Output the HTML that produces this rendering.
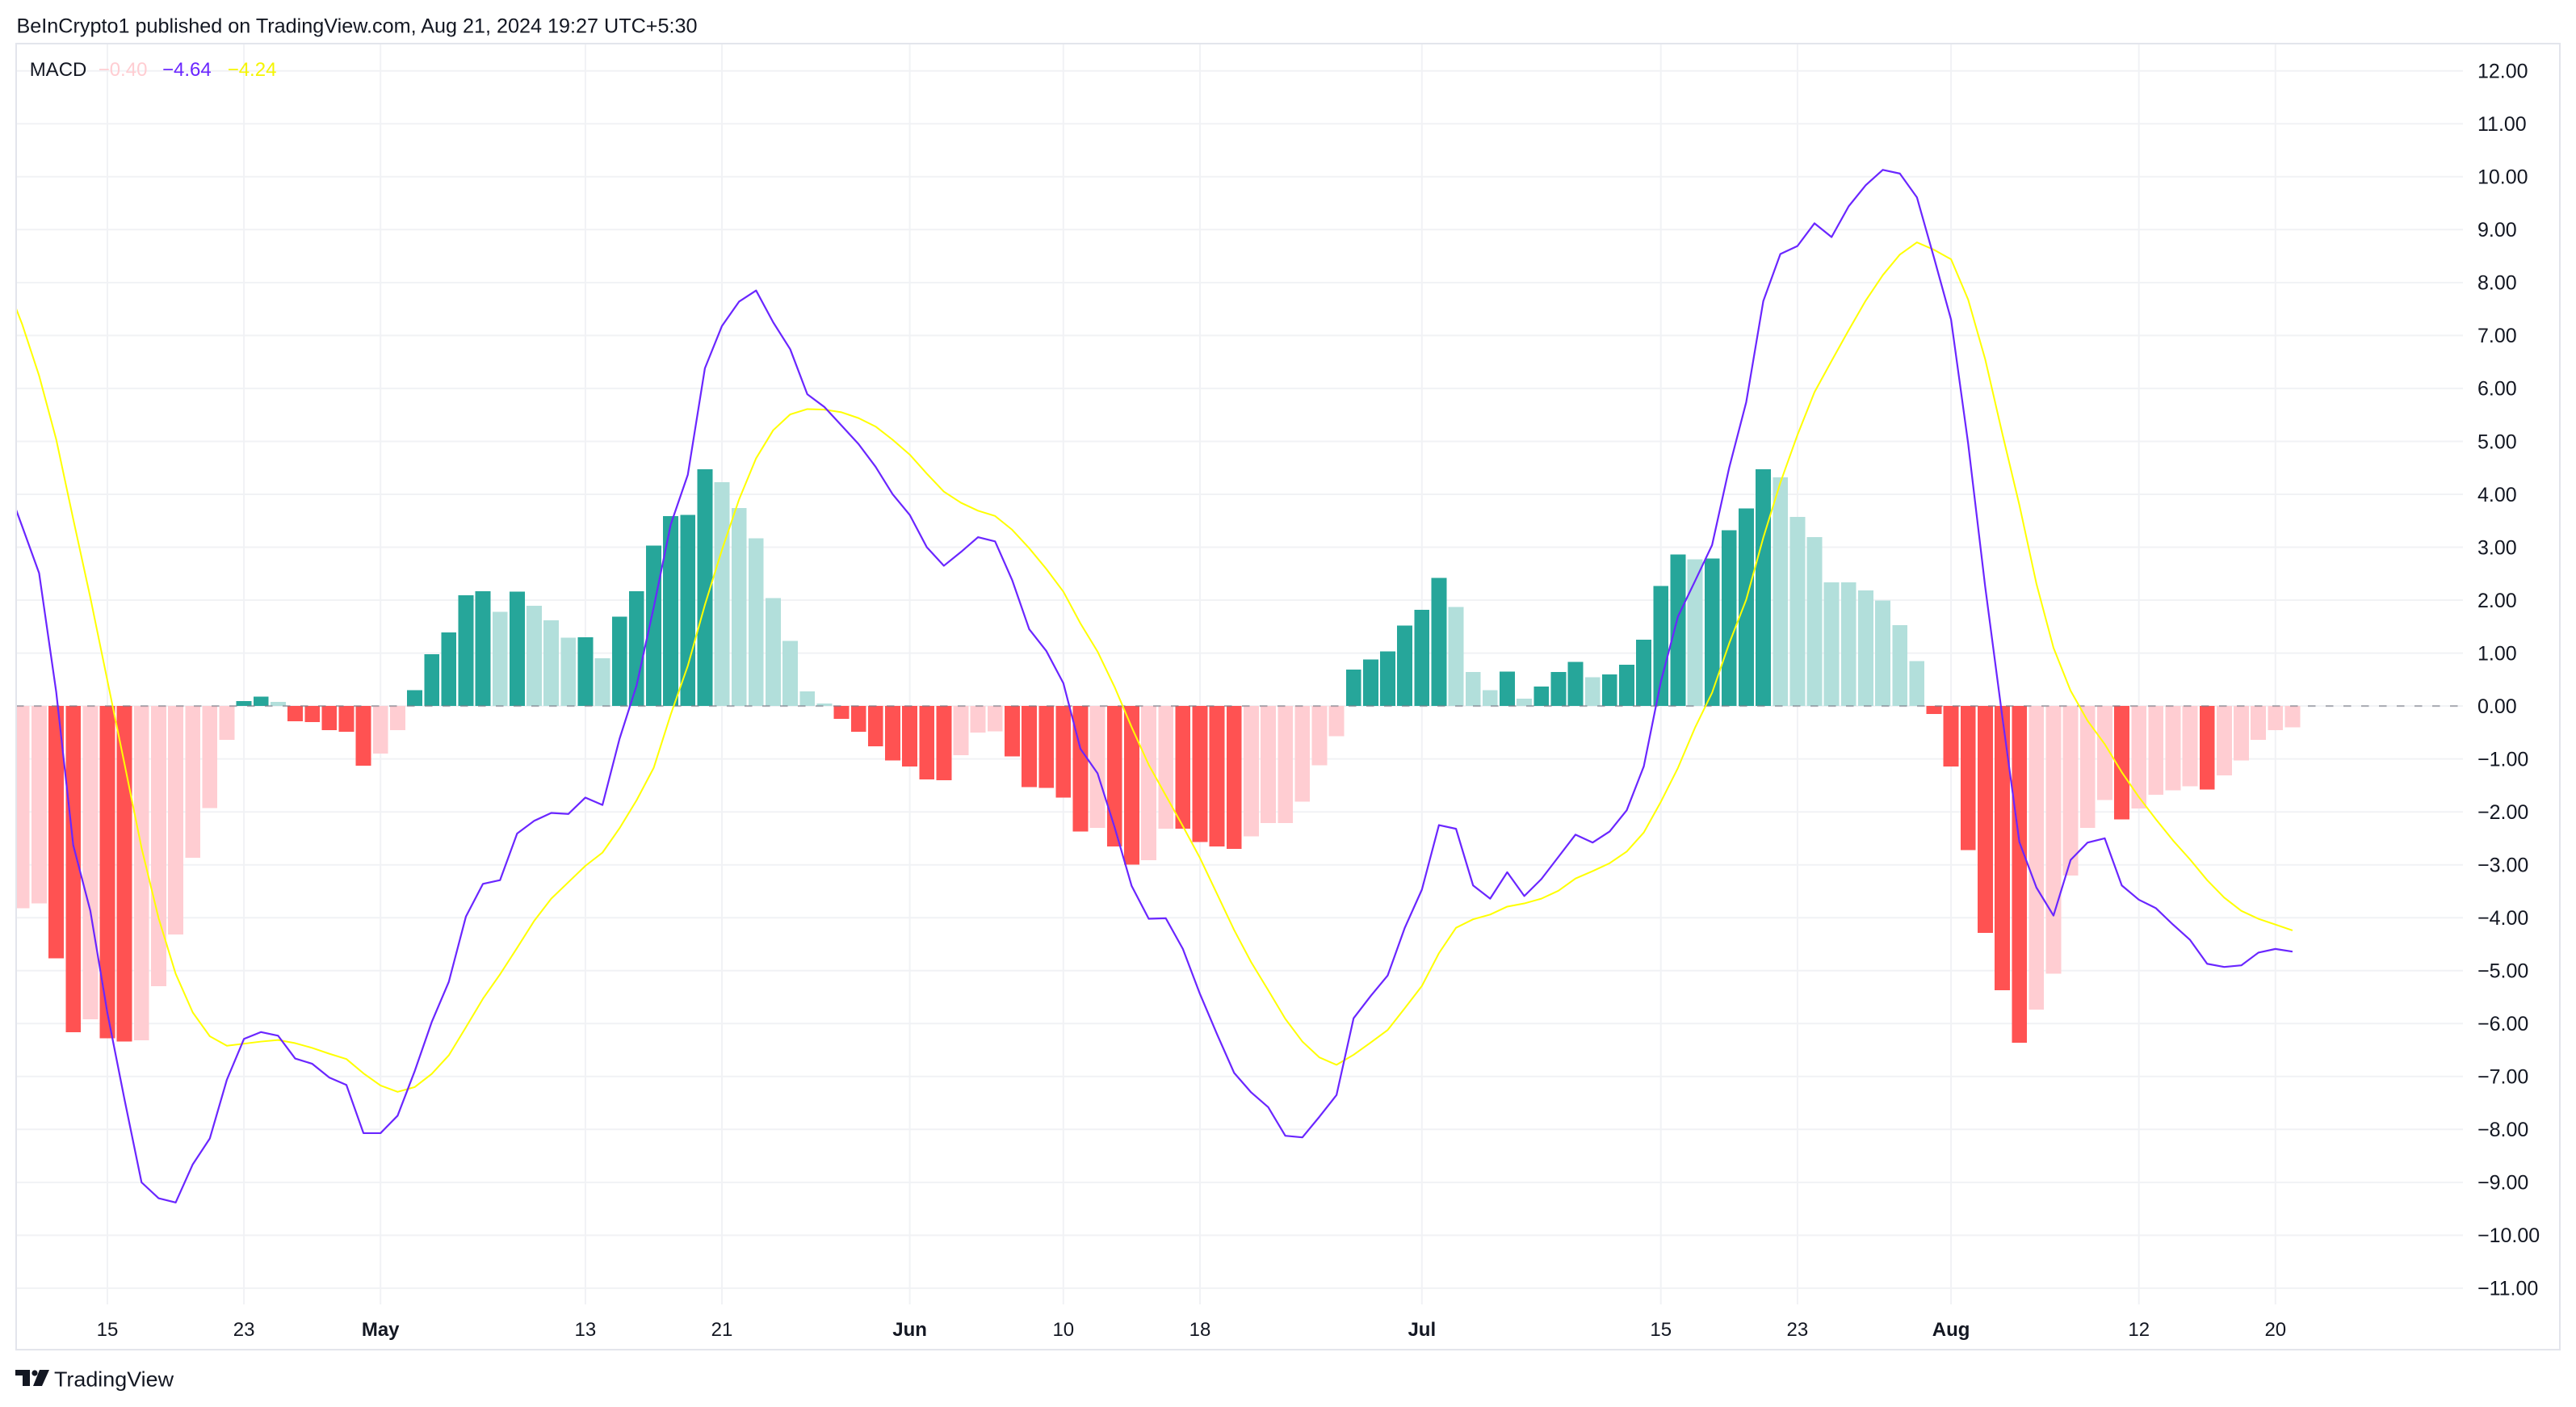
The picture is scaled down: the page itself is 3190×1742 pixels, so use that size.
<!DOCTYPE html>
<html>
<head>
<meta charset="utf-8">
<style>
html,body{margin:0;padding:0;background:#ffffff;overflow:hidden;}
svg{display:block;}
text{font-family:"Liberation Sans",Arial,sans-serif;fill:#131722;}
</style>
</head>
<body>
<svg width="3190" height="1742" viewBox="0 0 3190 1742" xmlns="http://www.w3.org/2000/svg">
<defs>
<clipPath id="plot" clipPathUnits="userSpaceOnUse"><rect x="21" y="55" width="3029" height="1560"/></clipPath>
</defs>
<rect x="0" y="0" width="3190" height="1742" fill="#ffffff"/>

<!-- header -->
<text x="20.5" y="40.5" font-size="25" textLength="843" lengthAdjust="spacingAndGlyphs">BeInCrypto1 published on TradingView.com, Aug 21, 2024 19:27 UTC+5:30</text>

<!-- frame -->
<rect x="20" y="54" width="3150" height="1617" fill="none" stroke="#e3e5ec" stroke-width="2"/>

<!-- horizontal grid -->
<g stroke="#f1f2f5" stroke-width="2">
<line x1="21" x2="3050" y1="87.7" y2="87.7"/>
<line x1="21" x2="3050" y1="153.3" y2="153.3"/>
<line x1="21" x2="3050" y1="218.8" y2="218.8"/>
<line x1="21" x2="3050" y1="284.3" y2="284.3"/>
<line x1="21" x2="3050" y1="349.9" y2="349.9"/>
<line x1="21" x2="3050" y1="415.4" y2="415.4"/>
<line x1="21" x2="3050" y1="480.9" y2="480.9"/>
<line x1="21" x2="3050" y1="546.5" y2="546.5"/>
<line x1="21" x2="3050" y1="612.0" y2="612.0"/>
<line x1="21" x2="3050" y1="677.5" y2="677.5"/>
<line x1="21" x2="3050" y1="743.0" y2="743.0"/>
<line x1="21" x2="3050" y1="808.6" y2="808.6"/>
<line x1="21" x2="3050" y1="874.1" y2="874.1"/>
<line x1="21" x2="3050" y1="939.6" y2="939.6"/>
<line x1="21" x2="3050" y1="1005.2" y2="1005.2"/>
<line x1="21" x2="3050" y1="1070.7" y2="1070.7"/>
<line x1="21" x2="3050" y1="1136.2" y2="1136.2"/>
<line x1="21" x2="3050" y1="1201.8" y2="1201.8"/>
<line x1="21" x2="3050" y1="1267.3" y2="1267.3"/>
<line x1="21" x2="3050" y1="1332.8" y2="1332.8"/>
<line x1="21" x2="3050" y1="1398.3" y2="1398.3"/>
<line x1="21" x2="3050" y1="1463.9" y2="1463.9"/>
<line x1="21" x2="3050" y1="1529.4" y2="1529.4"/>
<line x1="21" x2="3050" y1="1594.9" y2="1594.9"/>
</g>

<!-- vertical grid -->
<g stroke="#f1f2f5" stroke-width="2">
<line x1="133" x2="133" y1="55" y2="1615"/>
<line x1="302.1" x2="302.1" y1="55" y2="1615"/>
<line x1="471.2" x2="471.2" y1="55" y2="1615"/>
<line x1="724.9" x2="724.9" y1="55" y2="1615"/>
<line x1="894" x2="894" y1="55" y2="1615"/>
<line x1="1126.6" x2="1126.6" y1="55" y2="1615"/>
<line x1="1316.8" x2="1316.8" y1="55" y2="1615"/>
<line x1="1486" x2="1486" y1="55" y2="1615"/>
<line x1="1760.8" x2="1760.8" y1="55" y2="1615"/>
<line x1="2056.7" x2="2056.7" y1="55" y2="1615"/>
<line x1="2225.9" x2="2225.9" y1="55" y2="1615"/>
<line x1="2416.1" x2="2416.1" y1="55" y2="1615"/>
<line x1="2648.7" x2="2648.7" y1="55" y2="1615"/>
<line x1="2817.8" x2="2817.8" y1="55" y2="1615"/>
</g>

<g clip-path="url(#plot)">
<g transform="translate(133,874.1) scale(21.14,-65.53)" shape-rendering="crispEdges">
<path fill="#ffcdd2" d="M-5.445 0h.89v-3.82h-.89zM-4.445 0h.89v-3.73h-.89zM-1.445 0h.89v-5.92h-.89zM1.555 0h.89v-6.32h-.89zM2.555 0h.89v-5.29h-.89zM3.555 0h.89v-4.32h-.89zM4.555 0h.89v-2.87h-.89zM5.555 0h.89v-1.93h-.89zM6.555 0h.89v-.64h-.89zM15.555 0h.89v-.9h-.89zM16.555 0h.89v-.455h-.89zM49.555 0h.89v-.93h-.89zM50.555 0h.89v-.5h-.89zM51.555 0h.89v-.48h-.89zM57.555 0h.89v-2.3h-.89zM60.555 0h.89v-2.91h-.89zM61.555 0h.89v-2.32h-.89zM66.555 0h.89v-2.46h-.89zM67.555 0h.89v-2.21h-.89zM68.555 0h.89v-2.21h-.89zM69.555 0h.89v-1.81h-.89zM70.555 0h.89v-1.12h-.89zM71.555 0h.89v-.57h-.89zM112.555 0h.89v-5.74h-.89zM113.555 0h.89v-5.06h-.89zM114.555 0h.89v-3.2h-.89zM115.555 0h.89v-2.3h-.89zM116.555 0h.89v-1.78h-.89zM118.555 0h.89v-1.94h-.89zM119.555 0h.89v-1.68h-.89zM120.555 0h.89v-1.59h-.89zM121.555 0h.89v-1.52h-.89zM123.555 0h.89v-1.31h-.89zM124.555 0h.89v-1.03h-.89zM125.555 0h.89v-.64h-.89zM126.555 0h.89v-.46h-.89zM127.555 0h.89v-.4h-.89z"/>
<path fill="#ff5252" d="M-3.445 0h.89v-4.77h-.89zM-2.445 0h.89v-6.16h-.89zM-.445 0h.89v-6.28h-.89zM.555 0h.89v-6.34h-.89zM10.555 0h.89v-.29h-.89zM11.555 0h.89v-.3h-.89zM12.555 0h.89v-.455h-.89zM13.555 0h.89v-.49h-.89zM14.555 0h.89v-1.13h-.89zM42.555 0h.89v-.245h-.89zM43.555 0h.89v-.49h-.89zM44.555 0h.89v-.76h-.89zM45.555 0h.89v-1.03h-.89zM46.555 0h.89v-1.14h-.89zM47.555 0h.89v-1.39h-.89zM48.555 0h.89v-1.4h-.89zM52.555 0h.89v-.95h-.89zM53.555 0h.89v-1.53h-.89zM54.555 0h.89v-1.55h-.89zM55.555 0h.89v-1.73h-.89zM56.555 0h.89v-2.37h-.89zM58.555 0h.89v-2.65h-.89zM59.555 0h.89v-3h-.89zM62.555 0h.89v-2.32h-.89zM63.555 0h.89v-2.57h-.89zM64.555 0h.89v-2.65h-.89zM65.555 0h.89v-2.7h-.89zM106.555 0h.89v-.15h-.89zM107.555 0h.89v-1.14h-.89zM108.555 0h.89v-2.72h-.89zM109.555 0h.89v-4.29h-.89zM110.555 0h.89v-5.37h-.89zM111.555 0h.89v-6.36h-.89zM117.555 0h.89v-2.14h-.89zM122.555 0h.89v-1.58h-.89z"/>
<path fill="#26a69a" d="M7.555 0h.89v.09h-.89zM8.555 0h.89v.175h-.89zM17.555 0h.89v.3h-.89zM18.555 0h.89v.98h-.89zM19.555 0h.89v1.39h-.89zM20.555 0h.89v2.09h-.89zM21.555 0h.89v2.17h-.89zM23.555 0h.89v2.16h-.89zM27.555 0h.89v1.3h-.89zM29.555 0h.89v1.69h-.89zM30.555 0h.89v2.17h-.89zM31.555 0h.89v3.03h-.89zM32.555 0h.89v3.59h-.89zM33.555 0h.89v3.61h-.89zM34.555 0h.89v4.47h-.89zM72.555 0h.89v.69h-.89zM73.555 0h.89v.88h-.89zM74.555 0h.89v1.03h-.89zM75.555 0h.89v1.52h-.89zM76.555 0h.89v1.82h-.89zM77.555 0h.89v2.42h-.89zM81.555 0h.89v.65h-.89zM83.555 0h.89v.37h-.89zM84.555 0h.89v.64h-.89zM85.555 0h.89v.83h-.89zM87.555 0h.89v.6h-.89zM88.555 0h.89v.78h-.89zM89.555 0h.89v1.25h-.89zM90.555 0h.89v2.27h-.89zM91.555 0h.89v2.86h-.89zM93.555 0h.89v2.79h-.89zM94.555 0h.89v3.32h-.89zM95.555 0h.89v3.73h-.89zM96.555 0h.89v4.47h-.89z"/>
<path fill="#b2dfdb" d="M9.555 0h.89v.08h-.89zM22.555 0h.89v1.78h-.89zM24.555 0h.89v1.89h-.89zM25.555 0h.89v1.62h-.89zM26.555 0h.89v1.29h-.89zM28.555 0h.89v.9h-.89zM35.555 0h.89v4.23h-.89zM36.555 0h.89v3.74h-.89zM37.555 0h.89v3.17h-.89zM38.555 0h.89v2.04h-.89zM39.555 0h.89v1.23h-.89zM40.555 0h.89v.28h-.89zM41.555 0h.89v.05h-.89zM78.555 0h.89v1.87h-.89zM79.555 0h.89v.64h-.89zM80.555 0h.89v.3h-.89zM82.555 0h.89v.14h-.89zM86.555 0h.89v.54h-.89zM92.555 0h.89v2.77h-.89zM97.555 0h.89v4.32h-.89zM98.555 0h.89v3.57h-.89zM99.555 0h.89v3.19h-.89zM100.555 0h.89v2.34h-.89zM101.555 0h.89v2.34h-.89zM102.555 0h.89v2.18h-.89zM103.555 0h.89v1.99h-.89zM104.555 0h.89v1.53h-.89zM105.555 0h.89v.85h-.89z"/>
</g>

<!-- zero dashed line -->
<line x1="20" x2="3050" y1="874.1" y2="874.1" stroke="#787b86" stroke-opacity="0.6" stroke-width="2" stroke-dasharray="9.5 12.5"/>

<g transform="translate(133,874.1) scale(21.14,-65.53)">
<!-- signal -->
<polyline fill="none" stroke="#ffff00" stroke-width="2" vector-effect="non-scaling-stroke" stroke-linejoin="round" points="-6,8.05 -5,7.22 -4,6.24 -3,5.04 -2,3.53 -1,2.05 0,0.48 1,-1.09 2,-2.68 3,-4.01 4,-5.06 5,-5.79 6,-6.24 7,-6.42 8,-6.38 9,-6.34 10,-6.31 11,-6.37 12,-6.46 13,-6.57 14,-6.67 15,-6.94 16,-7.17 17,-7.29 18,-7.2 19,-6.95 20,-6.6 21,-6.07 22,-5.53 23,-5.07 24,-4.57 25,-4.06 26,-3.64 27,-3.33 28,-3.02 29,-2.77 30,-2.31 31,-1.78 32,-1.17 33,-0.16 34,0.76 35,1.91 36,2.95 37,3.9 38,4.68 39,5.21 40,5.51 41,5.61 42,5.6 43,5.55 44,5.44 45,5.28 46,5.03 47,4.75 48,4.39 49,4.05 50,3.84 51,3.69 52,3.59 53,3.33 54,2.98 55,2.59 56,2.16 57,1.56 58,1.03 59,0.36 60,-0.4 61,-1.11 62,-1.69 63,-2.27 64,-2.87 65,-3.55 66,-4.23 67,-4.84 68,-5.37 69,-5.91 70,-6.34 71,-6.64 72,-6.78 73,-6.59 74,-6.36 75,-6.12 76,-5.71 77,-5.29 78,-4.67 79,-4.19 80,-4.03 81,-3.94 82,-3.79 83,-3.73 84,-3.64 85,-3.49 86,-3.26 87,-3.12 88,-2.97 89,-2.75 90,-2.39 91,-1.81 92,-1.17 93,-0.41 94,0.25 95,1.18 96,2.01 97,3.18 98,4.22 99,5.12 100,5.93 101,6.52 102,7.1 103,7.66 104,8.14 105,8.53 106,8.76 107,8.62 108,8.44 109,7.68 110,6.55 111,5.15 112,3.8 113,2.31 114,1.1 115,0.29 116,-0.28 117,-0.72 118,-1.25 119,-1.72 120,-2.14 121,-2.54 122,-2.9 123,-3.29 124,-3.62 125,-3.87 126,-4.02 127,-4.13 128,-4.24"/>
<!-- macd -->
<polyline fill="none" stroke="#6a26ff" stroke-width="2.2" vector-effect="non-scaling-stroke" stroke-linejoin="round" points="-6,4.28 -5,3.4 -4,2.51 -3,0.27 -2,-2.63 -1,-3.87 0,-5.8 1,-7.43 2,-9 3,-9.3 4,-9.38 5,-8.66 6,-8.17 7,-7.06 8,-6.29 9,-6.16 10,-6.23 11,-6.66 12,-6.76 13,-7.02 14,-7.16 15,-8.07 16,-8.07 17,-7.74 18,-6.9 19,-5.97 20,-5.21 21,-3.98 22,-3.36 23,-3.29 24,-2.41 25,-2.17 26,-2.02 27,-2.04 28,-1.73 29,-1.87 30,-0.62 31,0.39 32,1.86 33,3.43 34,4.37 35,6.38 36,7.18 37,7.64 38,7.85 39,7.25 40,6.74 41,5.89 42,5.65 43,5.3 44,4.95 45,4.52 46,4 47,3.61 48,3 49,2.65 50,2.91 51,3.19 52,3.11 53,2.38 54,1.45 55,1.04 56,0.43 57,-0.81 58,-1.27 59,-2.29 60,-3.4 61,-4.02 62,-4.01 63,-4.59 64,-5.44 65,-6.2 66,-6.93 67,-7.3 68,-7.58 69,-8.12 70,-8.15 71,-7.76 72,-7.35 73,-5.9 74,-5.48 75,-5.09 76,-4.19 77,-3.47 78,-2.25 79,-2.32 80,-3.39 81,-3.64 82,-3.14 83,-3.59 84,-3.27 85,-2.85 86,-2.43 87,-2.58 88,-2.37 89,-1.97 90,-1.14 91,0.46 92,1.69 93,2.36 94,3.04 95,4.5 96,5.74 97,7.65 98,8.54 99,8.69 100,9.12 101,8.86 102,9.44 103,9.84 104,10.13 105,10.06 106,9.61 107,8.47 108,7.3 109,4.96 110,2.25 111,-0.2 112,-2.57 113,-3.43 114,-3.96 115,-2.91 116,-2.58 117,-2.5 118,-3.39 119,-3.66 120,-3.82 121,-4.13 122,-4.42 123,-4.87 124,-4.93 125,-4.9 126,-4.66 127,-4.59 128,-4.64"/>
</g>
</g>

<!-- legend -->
<text x="36.7" y="94" font-size="24">MACD</text>
<text x="121.7" y="94" font-size="24" style="fill:#ffcdd2">−0.40</text>
<text x="201" y="94" font-size="24" style="fill:#6a26ff">−4.64</text>
<text x="281.7" y="94" font-size="24" style="fill:#f5f500">−4.24</text>

<!-- price axis labels -->
<g font-size="25">
<text x="3068" y="96.5">12.00</text>
<text x="3068" y="162.1">11.00</text>
<text x="3068" y="227.6">10.00</text>
<text x="3068" y="293.1">9.00</text>
<text x="3068" y="358.7">8.00</text>
<text x="3068" y="424.2">7.00</text>
<text x="3068" y="489.7">6.00</text>
<text x="3068" y="555.3">5.00</text>
<text x="3068" y="620.8">4.00</text>
<text x="3068" y="686.3">3.00</text>
<text x="3068" y="751.8">2.00</text>
<text x="3068" y="817.4">1.00</text>
<text x="3068" y="882.9">0.00</text>
<text x="3068" y="948.4">−1.00</text>
<text x="3068" y="1014">−2.00</text>
<text x="3068" y="1079.5">−3.00</text>
<text x="3068" y="1145">−4.00</text>
<text x="3068" y="1210.6">−5.00</text>
<text x="3068" y="1276.1">−6.00</text>
<text x="3068" y="1341.6">−7.00</text>
<text x="3068" y="1407.1">−8.00</text>
<text x="3068" y="1472.7">−9.00</text>
<text x="3068" y="1538.2">−10.00</text>
<text x="3068" y="1603.7">−11.00</text>
</g>

<!-- time axis labels -->
<g font-size="24" text-anchor="middle">
<text x="133" y="1654">15</text>
<text x="302.1" y="1654">23</text>
<text x="471.2" y="1654" font-weight="bold">May</text>
<text x="724.9" y="1654">13</text>
<text x="894" y="1654">21</text>
<text x="1126.6" y="1654" font-weight="bold">Jun</text>
<text x="1316.8" y="1654">10</text>
<text x="1486" y="1654">18</text>
<text x="1760.8" y="1654" font-weight="bold">Jul</text>
<text x="2056.7" y="1654">15</text>
<text x="2225.9" y="1654">23</text>
<text x="2416.1" y="1654" font-weight="bold">Aug</text>
<text x="2648.7" y="1654">12</text>
<text x="2817.8" y="1654">20</text>
</g>

<!-- TradingView logo -->
<g fill="#131722">
<rect x="19" y="1696" width="18" height="7"/>
<rect x="28" y="1696" width="9" height="20"/>
<circle cx="43" cy="1700" r="3.6"/>
<polygon points="49,1696 61,1696 52,1716 41,1716"/>
</g>
<text x="67" y="1716.5" font-size="26" textLength="148" lengthAdjust="spacingAndGlyphs">TradingView</text>
</svg>
</body>
</html>
